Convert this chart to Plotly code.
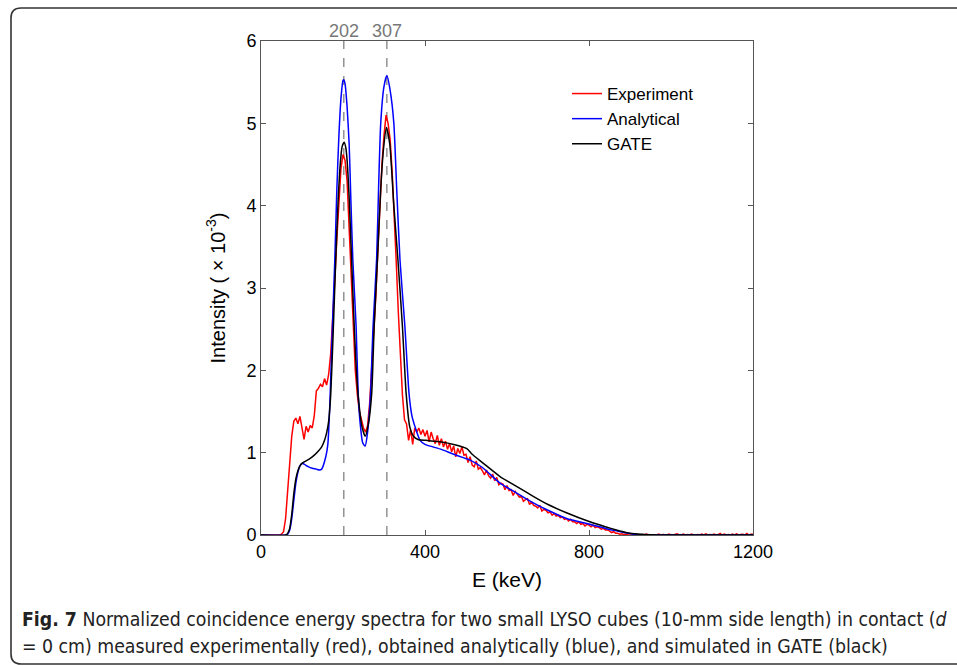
import plotly.graph_objects as go

# ---------------- data ----------------
PEAKS = [202, 307]

E_EXP = list(range(0, 1201, 5))
I_EXP = [
    0, 0, 0, 0, 0, 0, 0, 0, 0, 0,
    0.01, 0.04, 0.2, 0.55, 0.9, 1.2, 1.38, 1.42, 1.35, 1.44,
    1.3, 1.16, 1.32, 1.25, 1.33, 1.3, 1.45, 1.75, 1.78, 1.83,
    1.8, 1.9, 1.82, 1.95, 2.2, 2.6, 3.1, 3.6, 4.1, 4.45,
    4.62, 4.55, 4.3, 3.7, 3.1, 2.5, 2.0, 1.7, 1.5, 1.4,
    1.3, 1.25, 1.33, 1.6, 2.0, 2.5, 2.9, 3.45, 4.0, 4.5,
    4.85, 5.1, 5.0, 4.8, 4.4, 3.9, 3.3, 2.7, 2.2, 1.7,
    1.4, 1.35, 1.15, 1.28, 1.1, 1.3, 1.25, 1.3, 1.22, 1.28,
    1.2, 1.27, 1.13, 1.25, 1.17, 1.11, 1.21, 1.09, 1.17, 1.07,
    1.14, 1.04, 1.11, 1.01, 1.08, 0.95, 1.05, 0.99, 1.07, 0.97,
    0.98, 0.88, 0.95, 0.85, 0.83, 0.9, 0.8, 0.82, 0.78, 0.73,
    0.79, 0.72, 0.69, 0.74, 0.66, 0.7, 0.61, 0.63, 0.62, 0.55,
    0.6, 0.54, 0.55, 0.48, 0.53, 0.5, 0.46, 0.47, 0.41, 0.43,
    0.44, 0.37, 0.4, 0.36, 0.35, 0.33, 0.36, 0.29, 0.31, 0.3,
    0.27, 0.28, 0.24, 0.26, 0.23, 0.24, 0.21, 0.22, 0.19, 0.2,
    0.17, 0.19, 0.16, 0.16, 0.14, 0.16, 0.13, 0.14, 0.11, 0.13,
    0.12, 0.1, 0.12, 0.09, 0.1, 0.09, 0.07, 0.08, 0.06, 0.06,
    0.05, 0.03, 0.04, 0.02, 0.02, 0.01, 0.015, 0.005, 0.01, 0.0,
    0, 0.005, 0, 0.01, 0, 0, 0.005, 0, 0.01, 0,
    0, 0.005, 0, 0, 0.01, 0, 0.005, 0, 0, 0.01,
    0, 0, 0.005, 0.015, 0, 0, 0.01, 0, 0.005, 0,
    0.01, 0, 0, 0.005, 0, 0.01, 0, 0.015, 0, 0.005,
    0, 0.01, 0, 0.005, 0.02, 0, 0.01, 0, 0.005, 0,
    0.01, 0, 0.015, 0, 0.005, 0.01, 0, 0.02, 0, 0.01,
    0.01,
]

E_ANA = [0, 60, 65, 70, 75, 80, 85, 90, 95, 100, 105, 115, 125, 135, 142, 148,
         158, 163, 168, 174, 180, 185, 190, 195, 200, 202, 205, 210, 215, 219, 224, 232,
         237, 242, 248, 254, 260, 267, 273, 282, 287, 292, 300, 307, 315, 324, 331, 339,
         351, 361, 368, 376, 388, 400, 440, 470, 510, 540, 583, 620, 664, 700,
         745, 802, 840, 867, 908, 950, 1000, 1200]
I_ANA = [0, 0, 0.01, 0.06, 0.2, 0.42, 0.63, 0.76, 0.84, 0.87, 0.86, 0.83, 0.81, 0.8, 0.79, 0.8,
         0.95, 1.1, 1.6, 2.5, 3.34, 4.2, 4.85, 5.3, 5.52, 5.53, 5.48, 5.2, 4.75, 4.1, 3.34, 2.53,
         1.72, 1.35, 1.12, 1.08, 1.25, 1.7, 2.5, 3.35, 4.25, 5.0, 5.45, 5.58, 5.4, 5.0, 4.2, 3.34,
         2.53, 1.72, 1.45, 1.31, 1.15, 1.1, 1.04, 0.98, 0.91, 0.82, 0.63, 0.52, 0.39, 0.3,
         0.2, 0.13, 0.08, 0.05, 0.01, 0.002, 0, 0]

E_GATE = [0, 60, 65, 70, 75, 80, 85, 90, 95, 100, 110, 120, 130, 140, 148, 155,
          160, 165, 170, 176, 182, 188, 194, 198, 203, 207, 210, 215, 221, 226, 231, 236,
          241, 246, 254, 262, 270, 276, 284, 292, 299, 306, 314, 324, 334, 345,
          354, 363, 372, 383, 402, 440, 470, 502, 515, 540, 583, 620, 664, 700,
          745, 802, 840, 867, 890, 910, 950, 1000, 1200]
I_GATE = [0, 0, 0.02, 0.08, 0.25, 0.5, 0.68, 0.78, 0.84, 0.87, 0.9, 0.93, 0.97, 1.02, 1.07, 1.15,
          1.24, 1.38, 1.7, 2.45, 3.3, 4.05, 4.55, 4.72, 4.77, 4.7, 4.55, 4.1, 3.34, 2.7, 2.15, 1.75,
          1.5, 1.32, 1.2, 1.35, 1.72, 2.53, 3.34, 4.2, 4.7, 4.95, 4.75, 4.0, 3.34, 2.53,
          1.72, 1.31, 1.2, 1.16, 1.15, 1.13, 1.1, 1.05, 0.98, 0.88, 0.71, 0.6, 0.47, 0.37,
          0.27, 0.16, 0.1, 0.06, 0.03, 0.015, 0.003, 0, 0]

X_TICKS = [0, 400, 800, 1200]
Y_TICKS = [0, 1, 2, 3, 4, 5, 6]

# ---------------- layout geometry ----------------
W, H = 957, 666
ML, MR, MT, MB = 261, 204, 41, 131
PW, PH = W - ML - MR, H - MT - MB


def px(x):
    return (x - ML) / PW


def py(y):
    return (H - MB - y) / PH


FONT = "Liberation Sans, Arial, sans-serif"

fig = go.Figure()
fig.add_trace(go.Scatter(x=E_EXP, y=I_EXP, mode="lines", name="Experiment",
                         line=dict(color="#ff0000", width=1.5)))
fig.add_trace(go.Scatter(x=E_ANA, y=I_ANA, mode="lines", name="Analytical",
                         line=dict(color="#0000ff", width=1.5, shape="spline", smoothing=0.6)))
fig.add_trace(go.Scatter(x=E_GATE, y=I_GATE, mode="lines", name="GATE",
                         line=dict(color="#000000", width=1.5, shape="spline", smoothing=0.6)))

shapes = []
annotations = []
for p in PEAKS:
    shapes.append(dict(type="line", xref="x", yref="y", x0=p, x1=p, y0=0, y1=6,
                       line=dict(color="#777777", width=1.2, dash="dash"), layer="below"))
    annotations.append(dict(x=p, y=1, xref="x", yref="paper", text=str(p), showarrow=False,
                            yanchor="bottom", yshift=-2, font=dict(family=FONT, size=18, color="#777777")))

# rounded frame around the figure
x0, y0, x1, y1, r = px(11), py(8), px(975), py(664), 10
rx, ry = r / PW, r / PH
path = (f"M {x1},{y0} L {x0 + rx},{y0} Q {x0},{y0} {x0},{y0 - ry} "
        f"L {x0},{y1 + ry} Q {x0},{y1} {x0 + rx},{y1} L {x1},{y1}")
shapes.append(dict(type="path", xref="paper", yref="paper", path=path,
                   line=dict(color="#333333", width=1.6)))

CAP_FONT = "Liberation Sans Narrow, DejaVu Sans Condensed, Open Sans, sans-serif"
annotations.append(dict(x=px(20), y=py(619), xref="paper", yref="paper", xanchor="left", yanchor="middle",
                        showarrow=False, align="left",
                        text="<b>Fig. 7</b> Normalized coincidence energy spectra for two small LYSO cubes "
                             "(10-mm side length) in contact (<i>d</i>",
                        font=dict(family=CAP_FONT, size=19.3, color="#222222")))
annotations.append(dict(x=px(20), y=py(646), xref="paper", yref="paper", xanchor="left", yanchor="middle",
                        showarrow=False, align="left",
                        text="= 0 cm) measured experimentally (red), obtained analytically (blue), "
                             "and simulated in GATE (black)",
                        font=dict(family=CAP_FONT, size=19.3, color="#222222")))

axis_common = dict(showline=True, linecolor="#555555", linewidth=1, mirror="ticks",
                   ticks="inside", ticklen=5, tickcolor="#555555", showgrid=False, zeroline=False,
                   tickfont=dict(family=FONT, size=18, color="#000000"))

fig.update_layout(
    width=W, height=H,
    margin=dict(l=ML, r=MR, t=MT, b=MB, autoexpand=False),
    paper_bgcolor="white", plot_bgcolor="white",
    xaxis=dict(range=[0, 1200], tickvals=X_TICKS,
               title=dict(text="E (keV)", font=dict(family=FONT, size=21, color="#000000"), standoff=11),
               **axis_common),
    yaxis=dict(range=[0, 6], tickvals=Y_TICKS,
               title=dict(text="Intensity ( × 10<sup>-3</sup>)", font=dict(family=FONT, size=20, color="#000000"),
                          standoff=15),
               **axis_common),
    legend=dict(x=px(567), y=py(76), xanchor="left", yanchor="top", bgcolor="rgba(0,0,0,0)",
                font=dict(family=FONT, size=17, color="#000000"), itemwidth=30, tracegroupgap=0),
    shapes=shapes, annotations=annotations, showlegend=True,
)

fig.write_html("out.html", config={"displayModeBar": False},
               post_script="document.body.style.margin='0px';")
